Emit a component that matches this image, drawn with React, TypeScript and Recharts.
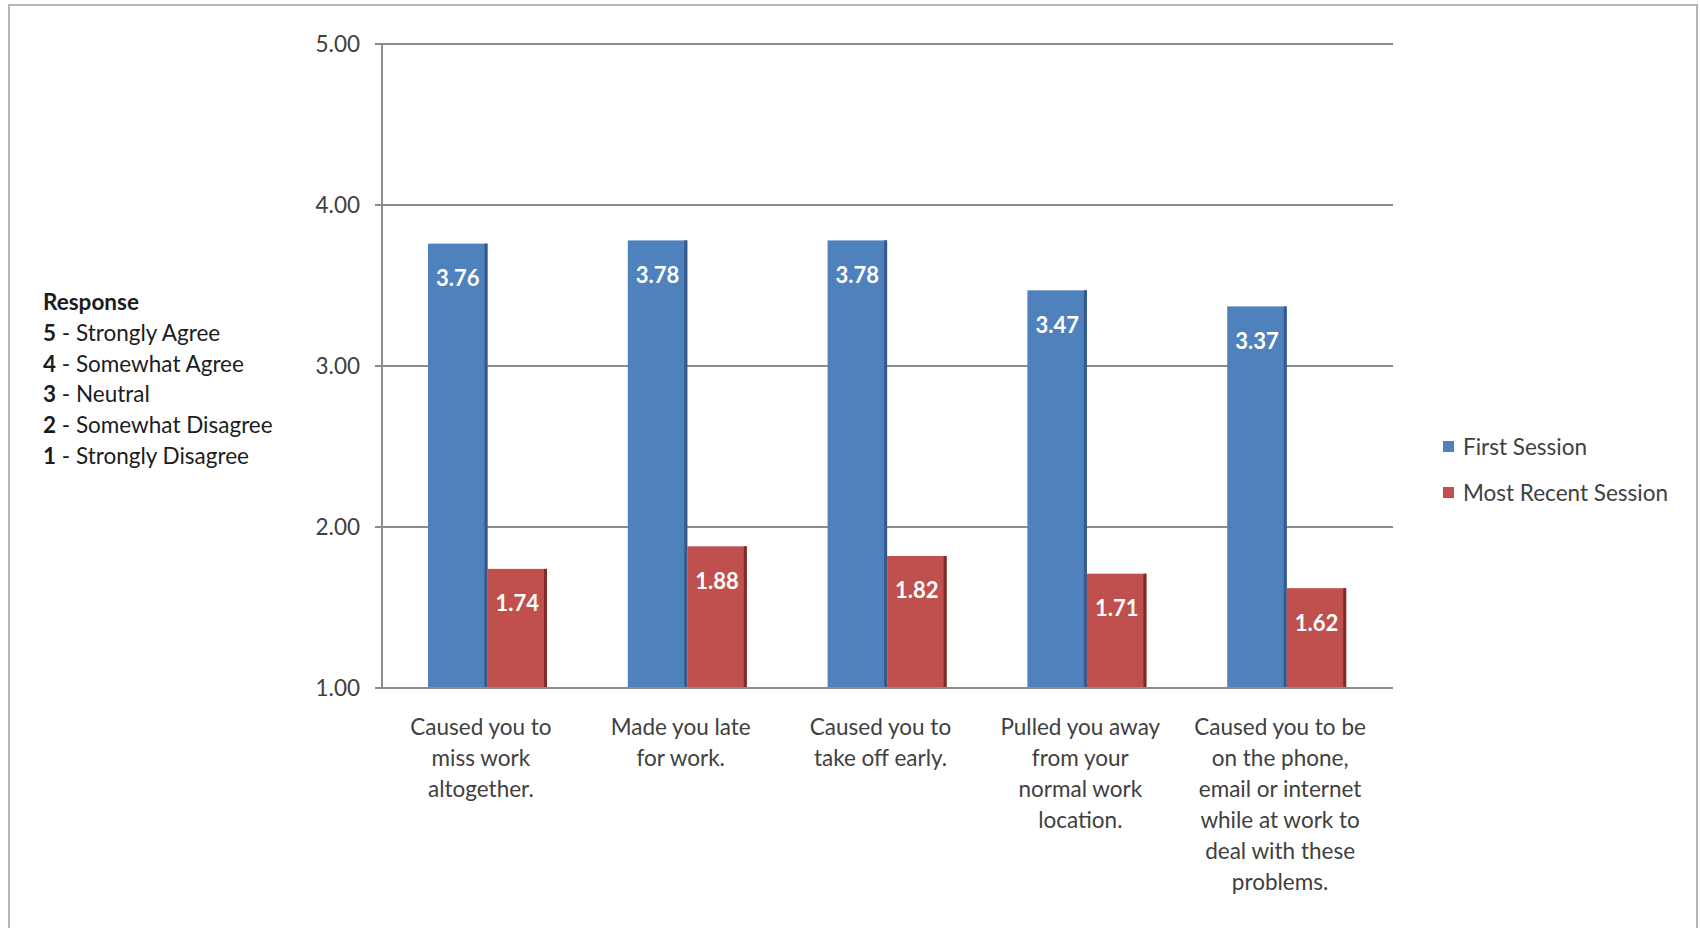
import React from "react";
import { BarChart, Bar, XAxis, YAxis, CartesianGrid, LabelList } from "recharts";

// Survey items (line breaks mark how each axis label wraps)
const categories: string[] = [
  "Caused you to\nmiss work\naltogether.",
  "Made you late\nfor work.",
  "Caused you to\ntake off early.",
  "Pulled you away\nfrom your\nnormal work\nlocation.",
  "Caused you to be\non the phone,\nemail or internet\nwhile at work to\ndeal with these\nproblems.",
];

// Mean response per item
const firstSession: number[] = [3.76, 3.78, 3.78, 3.47, 3.37];
const mostRecentSession: number[] = [1.74, 1.88, 1.82, 1.71, 1.62];

const seriesNames: string[] = ["First Session", "Most Recent Session"];
const yTicks: number[] = [1, 2, 3, 4, 5];

// Response scale key
const scaleScores: string[] = ["5", "4", "3", "2", "1"];
const scaleLabels: string[] = [
  "Strongly Agree",
  "Somewhat Agree",
  "Neutral",
  "Somewhat Disagree",
  "Strongly Disagree",
];

const BLUE = "#4f81bd";
const BLUE_EDGE = "#35598a";
const RED = "#c0504d";
const RED_EDGE = "#7e2d2b";
const GRID = "#8c8c8c";
const TEXT = "#404040";
const FONT = "Lato, 'Open Sans', sans-serif";
const FS = 22.5;

const data = categories.map((c, i) => ({
  category: c,
  first: firstSession[i],
  recent: mostRecentSession[i],
}));

const EdgedBar = (props: any) => {
  const { x, y, width, height, fill, edge } = props;
  if (!height || height <= 0) return null;
  return (
    <g>
      <rect x={x} y={y} width={width} height={height} fill={fill} />
      <rect x={x + width - 3} y={y} width={3} height={height} fill={edge} />
    </g>
  );
};

const ValueLabel = (props: any) => {
  const { x, y, width, value } = props;
  return (
    <text
      x={x + width / 2}
      y={y + 34}
      fill="#ffffff"
      fontSize={22}
      fontWeight={700}
      fontFamily={FONT}
      textAnchor="middle"
      dominantBaseline="central"
    >
      {Number(value).toFixed(2)}
    </text>
  );
};

const CategoryTick = (props: any) => {
  const { x, y, payload } = props;
  const lines = String(payload.value).split("\n");
  return (
    <g>
      {lines.map((line: string, i: number) => (
        <text
          key={i}
          x={x - 7}
          y={y + 47 + i * 31}
          textAnchor="middle"
          fill={TEXT}
          fontSize={FS}
          fontFamily={FONT}
        >
          {line}
        </text>
      ))}
    </g>
  );
};

export default function App() {
  const legendColors = [BLUE, RED];
  return (
    <div
      style={{
        position: "fixed",
        left: 0,
        top: 0,
        width: 1700,
        height: 928,
        overflow: "hidden",
        background: "#ffffff",
        fontFamily: FONT,
      }}
    >
      <div
        style={{
          position: "absolute",
          left: 8,
          top: 4,
          width: 1686,
          height: 1000,
          border: "2px solid #b6b6b6",
        }}
      />
      <div style={{ position: "absolute", left: 0, top: 0 }}>
        <BarChart
          width={1700}
          height={928}
          data={data}
          margin={{ top: 44, right: 307, bottom: 40, left: 302 }}
          barGap={0}
          barSize={59.5}
        >
          <CartesianGrid vertical={false} stroke={GRID} strokeWidth={2} />
          <XAxis
            dataKey="category"
            interval={0}
            height={200}
            padding={{ left: 6, right: 6 }}
            axisLine={{ stroke: GRID, strokeWidth: 2 }}
            tickLine={false}
            tickSize={0}
            tickMargin={0}
            tick={<CategoryTick />}
          />
          <YAxis
            width={80}
            domain={[1, 5]}
            ticks={yTicks}
            interval={0}
            allowDataOverflow
            axisLine={{ stroke: GRID, strokeWidth: 2 }}
            tickLine={{ stroke: GRID, strokeWidth: 2 }}
            tickSize={7}
            tickMargin={15}
            tickFormatter={(v: number) => v.toFixed(2)}
            tick={{ fill: TEXT, fontSize: FS, fontFamily: FONT }}
          />
          <Bar
            dataKey="first"
            name={seriesNames[0]}
            fill={BLUE}
            isAnimationActive={false}
            shape={(p: any) => <EdgedBar {...p} fill={BLUE} edge={BLUE_EDGE} />}
          >
            <LabelList dataKey="first" content={<ValueLabel />} />
          </Bar>
          <Bar
            dataKey="recent"
            name={seriesNames[1]}
            fill={RED}
            isAnimationActive={false}
            shape={(p: any) => <EdgedBar {...p} fill={RED} edge={RED_EDGE} />}
          >
            <LabelList dataKey="recent" content={<ValueLabel />} />
          </Bar>
        </BarChart>
      </div>

      {/* Response scale key */}
      <div
        style={{
          position: "absolute",
          left: 43,
          top: 287,
          fontSize: FS,
          lineHeight: "30.8px",
          color: "#1c1c1c",
          whiteSpace: "nowrap",
        }}
      >
        <div style={{ fontWeight: 700 }}>Response</div>
        {scaleScores.map((s, i) => (
          <div key={s}>
            <span style={{ fontWeight: 700 }}>{s}</span> - {scaleLabels[i]}
          </div>
        ))}
      </div>

      {/* Series legend */}
      <div
        style={{
          position: "absolute",
          left: 1443,
          top: 431,
          fontSize: FS,
          lineHeight: "31px",
          color: TEXT,
          whiteSpace: "nowrap",
        }}
      >
        {seriesNames.map((n, i) => (
          <div
            key={n}
            style={{
              display: "flex",
              alignItems: "center",
              height: 31,
              marginBottom: i === 0 ? 15 : 0,
            }}
          >
            <span
              style={{
                display: "inline-block",
                width: 11,
                height: 11,
                background: legendColors[i],
                marginRight: 9,
              }}
            />
            <span>{n}</span>
          </div>
        ))}
      </div>
    </div>
  );
}
